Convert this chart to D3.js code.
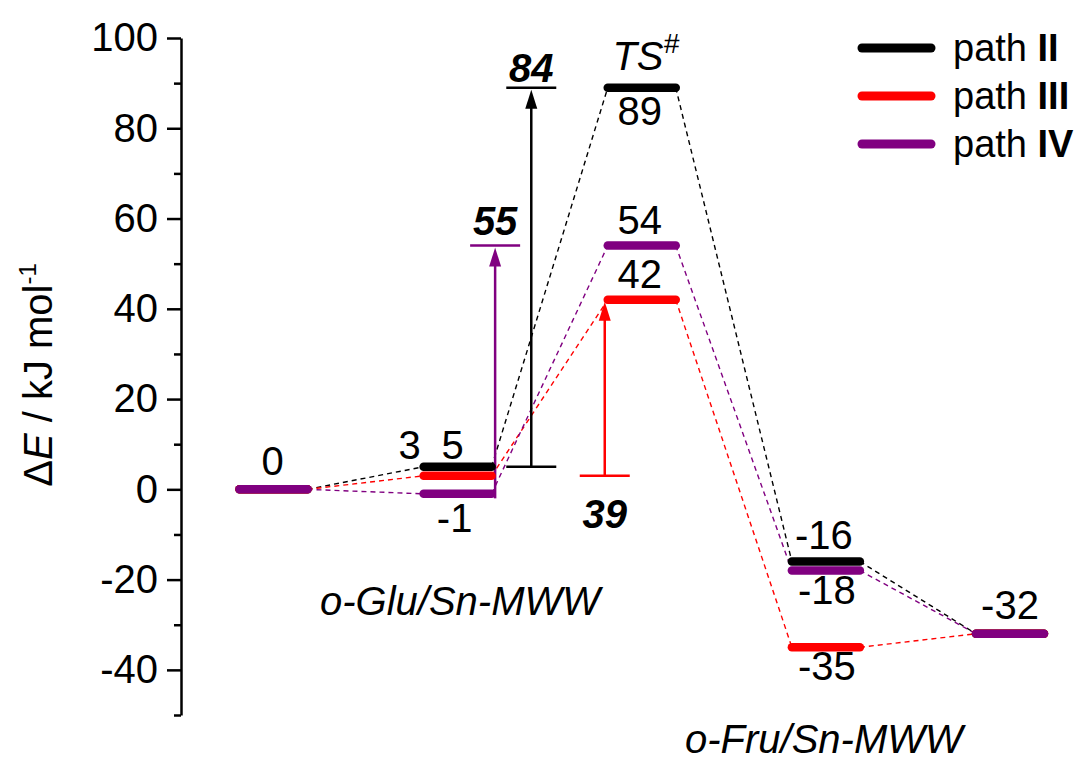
<!DOCTYPE html>
<html>
<head>
<meta charset="utf-8">
<script src="https://cdn.jsdelivr.net/npm/d3@7"></script>
<style>
  body { margin: 0; background: #fff; }
  text { font-family: "Liberation Sans", Arial, sans-serif; }
</style>
</head>
<body>
<div id="chart"></div>
<script>
// reaction stages (0 = start, 1 = o-Glu/Sn-MWW, 2 = TS, 3/4 = o-Fru side)
var stages = [0, 1, 2, 3, 4];
var pathNames = ["II", "III", "IV"];
var pathColors = ["#000000", "#ff0000", "#800080"];
var energiesII = [0, 5, 89, -16, -32];
var energiesIII = [0, 3, 42, -35, -32];
var energiesIV = [0, -1, 54, -18, -32];
var barriers = [84, 39, 55];          // apparent barrier, path II / III / IV
var yTicks = [-40, -20, 0, 20, 40, 60, 80, 100];
var yMinorTicks = [-50, -30, -10, 10, 30, 50, 70, 90];
var stateNames = ["o-Glu/Sn-MWW", "o-Fru/Sn-MWW"];

var energies = [energiesII, energiesIII, energiesIV];

var width = 1080, height = 767;
var svg = d3.select("#chart").append("svg")
    .attr("width", width)
    .attr("height", height);

var y = d3.scaleLinear().domain([-50, 100]).range([715, 38]);
var x = d3.scaleLinear().domain([0, 4]).range([273.5, 1010]);
var halfLevel = 34;

// y axis, major + minor ticks
var yAxis = d3.axisLeft(y).tickValues(yTicks).tickSize(14).tickSizeOuter(0).tickPadding(9)
    .tickFormat(function(d) { return String(d); });
var gy = svg.append("g").attr("transform", "translate(181,0)").call(yAxis);
gy.select(".domain").attr("stroke-width", 2.5);
gy.selectAll(".tick line").attr("stroke-width", 2.5);
gy.selectAll(".tick text").attr("font-size", 40).attr("font-family", "Liberation Sans, Arial").attr("fill", "#000");

var yMinor = d3.axisLeft(y).tickValues(yMinorTicks).tickSize(7).tickSizeOuter(0).tickFormat("");
var gm = svg.append("g").attr("transform", "translate(181,0)").call(yMinor);
gm.select(".domain").remove();
gm.selectAll(".tick line").attr("stroke-width", 2.5);

var title = svg.append("text")
    .attr("transform", "translate(52,375) rotate(-90)")
    .attr("text-anchor", "middle")
    .attr("font-size", 40);
title.append("tspan").text("\u0394");
title.append("tspan").attr("font-style", "italic").text("E");
title.append("tspan").text(" / kJ mol");
title.append("tspan").attr("font-size", 24).attr("dy", -16).text("-1");

// dashed connectors
var dashes = svg.append("g");
energies.forEach(function(vals, p) {
  for (var i = 0; i < vals.length - 1; i++) {
    dashes.append("line")
      .attr("x1", x(i) + halfLevel).attr("y1", y(vals[i]))
      .attr("x2", x(i + 1) - halfLevel).attr("y2", y(vals[i + 1]))
      .attr("stroke", pathColors[p])
      .attr("stroke-width", 1.4)
      .attr("stroke-dasharray", "5,4");
  }
});

// arrows for barriers
var arrows = svg.append("g");
function arrow(xPos, from, to, color, topBar, bottomBar) {
  var y0 = y(from), y1 = y(to);
  arrows.append("line")
    .attr("x1", xPos).attr("x2", xPos)
    .attr("y1", y0).attr("y2", y1 + 14)
    .attr("stroke", color).attr("stroke-width", 2.5);
  arrows.append("path")
    .attr("d", "M" + xPos + "," + (y1 + 2) + "L" + (xPos - 6) + "," + (y1 + 21) + "L" + (xPos + 6) + "," + (y1 + 21) + "Z")
    .attr("fill", color);
  if (topBar) arrows.append("line")
    .attr("x1", xPos - 25).attr("x2", xPos + 25).attr("y1", y1).attr("y2", y1)
    .attr("stroke", color).attr("stroke-width", 2.5);
  if (bottomBar) arrows.append("line")
    .attr("x1", xPos - 25).attr("x2", xPos + 25).attr("y1", y0).attr("y2", y0)
    .attr("stroke", color).attr("stroke-width", 2.5);
}
// path II (black)
arrow(x(1.4), energiesII[1], energiesII[1] + barriers[0], pathColors[0], true, true);
// path IV (purple), rises straight from the end of its level
arrow(x(1) + halfLevel + 3.5, energiesIV[1] - 1, energiesIV[1] + barriers[2], pathColors[2], true, false);
// path III (red)
arrow(x(2) - halfLevel - 3, energiesIII[1], energiesIII[1] + barriers[1], pathColors[1], false, true);

// energy levels
var levels = svg.append("g");
stages.forEach(function(s) {
  energies.forEach(function(vals, p) {
    levels.append("line")
      .attr("x1", x(s) - halfLevel).attr("x2", x(s) + halfLevel)
      .attr("y1", y(vals[s])).attr("y2", y(vals[s]))
      .attr("stroke", pathColors[p])
      .attr("stroke-width", 8.5)
      .attr("stroke-linecap", "round");
  });
});

// value labels: [path, stage, dx, dy]
var labelSpots = [
  [2, 0, -1, -14],
  [0, 1, -5, -8], [1, 1, -48, -17], [2, 1, -3, 38],
  [0, 2, -2, 37], [1, 2, -2, -12], [2, 2, -2, -12],
  [0, 3, -2, -13], [1, 3, 1, 33], [2, 3, 1, 33],
  [2, 4, 0, -15]
];
var labels = svg.append("g").attr("font-size", 40).attr("text-anchor", "middle");
labelSpots.forEach(function(d) {
  var v = energies[d[0]][d[1]];
  labels.append("text")
    .attr("x", x(d[1]) + d[2])
    .attr("y", y(v) + d[3])
    .text(v);
});

// TS label
var ts = svg.append("text")
  .attr("x", x(2) + 4).attr("y", y(energiesII[2]) - 18)
  .attr("text-anchor", "middle")
  .attr("font-size", 40);
ts.append("tspan").attr("font-style", "italic").text("TS");
ts.append("tspan").attr("font-size", 28).attr("font-style", "italic").attr("dy", -17).text("#");

// barrier labels
var bl = svg.append("g").attr("font-size", 40).attr("font-weight", "bold")
  .attr("font-style", "italic").attr("text-anchor", "middle");
bl.append("text").attr("x", x(1.4)).attr("y", y(energiesII[1] + barriers[0]) - 6).text(barriers[0]);
bl.append("text").attr("x", x(1) + halfLevel + 3.5).attr("y", y(energiesIV[1] + barriers[2]) - 11).text(barriers[2]);
bl.append("text").attr("x", x(2) - halfLevel - 3).attr("y", y(energiesIII[1]) + 52).text(barriers[1]);

// state names
svg.append("text").attr("x", 320).attr("y", 615)
  .attr("font-size", 40).attr("font-style", "italic").text(stateNames[0]);
svg.append("text").attr("x", 685).attr("y", 753)
  .attr("font-size", 40).attr("font-style", "italic").text(stateNames[1]);

// legend
var legend = svg.append("g");
pathNames.forEach(function(name, i) {
  var ly = 48 + i * 48;
  legend.append("line")
    .attr("x1", 862).attr("x2", 931).attr("y1", ly).attr("y2", ly)
    .attr("stroke", pathColors[i]).attr("stroke-width", 9)
    .attr("stroke-linecap", "round");
  var t = legend.append("text").attr("x", 953).attr("y", ly + 13).attr("font-size", 38);
  t.append("tspan").text("path ");
  t.append("tspan").attr("font-weight", "bold").text(name);
});
</script>
</body>
</html>
